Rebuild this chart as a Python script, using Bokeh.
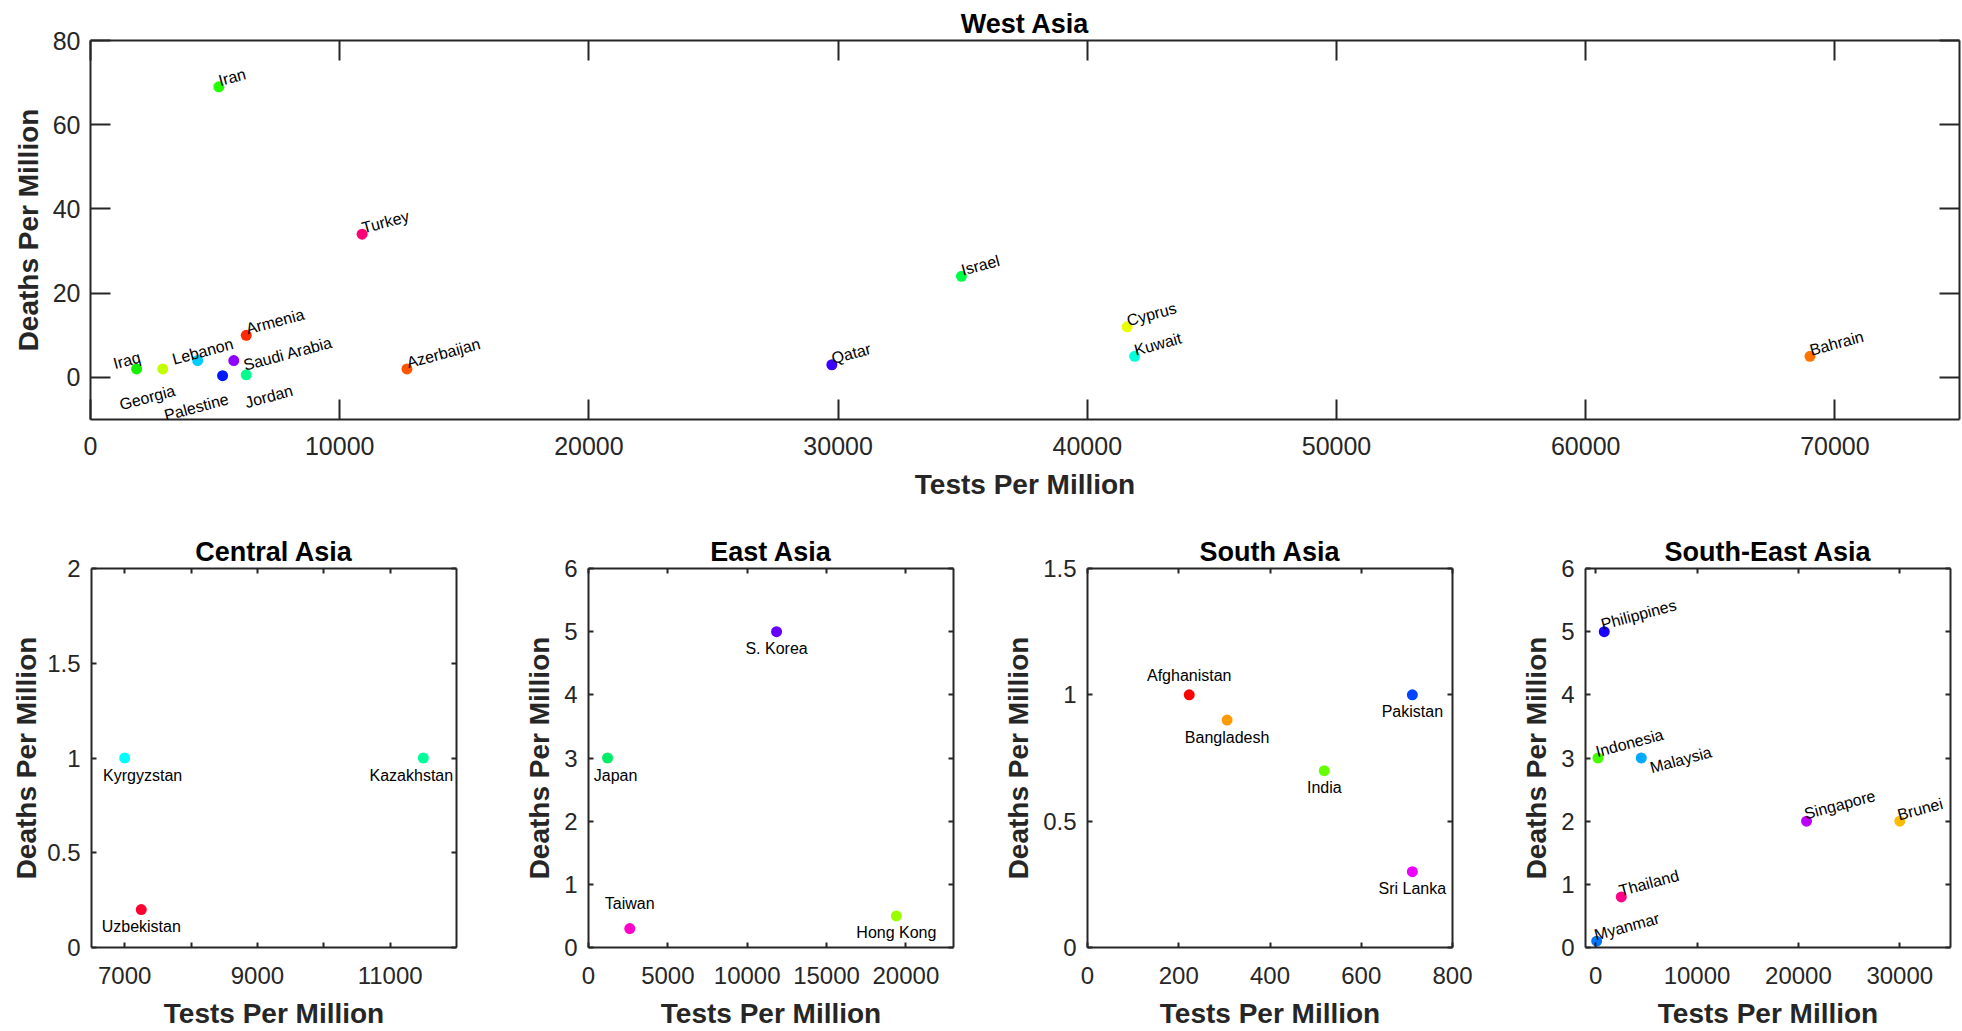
import math
from bokeh.plotting import figure
from bokeh.layouts import column, row
from bokeh.models import LinearAxis, FixedTicker, Range1d, ColumnDataSource, Label
from bokeh.embed import file_html
from bokeh.resources import INLINE

FONT = "Liberation Sans"
AXC = "#262626"

# ---------------- data ----------------
# West Asia
wa_country = ["Iran", "Turkey", "Israel", "Cyprus", "Kuwait", "Bahrain", "Qatar",
              "Azerbaijan", "Armenia", "Iraq", "Georgia", "Lebanon", "Saudi Arabia",
              "Palestine", "Jordan"]
wa_tests = [5150, 10900, 34950, 41600, 41900, 69000, 29750,
            12700, 6250, 1850, 2900, 4300, 5750, 5300, 6250]
wa_deaths = [69, 34, 24, 12, 5, 5, 3, 2, 10, 2, 2, 4, 4, 0.4, 0.6]
wa_color = ["#26ff00", "#ff0077", "#00ff44", "#e8ff00", "#00ffdd", "#ff7300", "#3c00ff",
            "#ff5500", "#ff2a00", "#14f000", "#c4ff00", "#00ccff", "#9000ff",
            "#0019ff", "#00ff8c"]
wa_xticks = [0, 10000, 20000, 30000, 40000, 50000, 60000, 70000]
wa_xtick_labels = ["0", "10000", "20000", "30000", "40000", "50000", "60000", "70000"]
wa_yticks = [0, 20, 40, 60, 80]
wa_ytick_labels = ["0", "20", "40", "60", "80"]
wa_xrange = (0, 75000)
wa_yrange = (-10, 80)

# Central Asia
ca_country = ["Kyrgyzstan", "Kazakhstan", "Uzbekistan"]
ca_tests = [7000, 11500, 7250]
ca_deaths = [1, 1, 0.2]
ca_color = ["#00ffff", "#00ff99", "#ff0033"]
ca_xticks = [7000, 8000, 9000, 10000, 11000]
ca_xtick_labels = ["7000", "", "9000", "", "11000"]
ca_yticks = [0, 0.5, 1, 1.5, 2]
ca_ytick_labels = ["0", "0.5", "1", "1.5", "2"]
ca_xrange = (6500, 12000)
ca_yrange = (0, 2)

# East Asia
ea_country = ["S. Korea", "Japan", "Taiwan", "Hong Kong"]
ea_tests = [11850, 1200, 2600, 19400]
ea_deaths = [5, 3, 0.3, 0.5]
ea_color = ["#6600ff", "#00ee66", "#ff00cc", "#99ff00"]
ea_xticks = [0, 5000, 10000, 15000, 20000]
ea_xtick_labels = ["0", "5000", "10000", "15000", "20000"]
ea_yticks = [0, 1, 2, 3, 4, 5, 6]
ea_ytick_labels = ["0", "1", "2", "3", "4", "5", "6"]
ea_xrange = (0, 23000)
ea_yrange = (0, 6)

# South Asia
sa_country = ["Afghanistan", "Bangladesh", "India", "Pakistan", "Sri Lanka"]
sa_tests = [223, 306, 519, 712, 712]
sa_deaths = [1, 0.9, 0.7, 1, 0.3]
sa_color = ["#ff0000", "#ff9900", "#66ff00", "#0044ff", "#ee00ff"]
sa_xticks = [0, 200, 400, 600, 800]
sa_xtick_labels = ["0", "200", "400", "600", "800"]
sa_yticks = [0, 0.5, 1, 1.5]
sa_ytick_labels = ["0", "0.5", "1", "1.5"]
sa_xrange = (0, 800)
sa_yrange = (0, 1.5)

# South-East Asia
se_country = ["Philippines", "Indonesia", "Malaysia", "Singapore", "Brunei",
              "Thailand", "Myanmar"]
se_tests = [850, 230, 4500, 20800, 30000, 2530, 100]
se_deaths = [5, 3, 3, 2, 2, 0.8, 0.1]
se_color = ["#1a00ff", "#44ff00", "#00aaff", "#bb00ff", "#ffbb00", "#ff0088", "#0077ff"]
se_xticks = [0, 10000, 20000, 30000]
se_xtick_labels = ["0", "10000", "20000", "30000"]
se_yticks = [0, 1, 2, 3, 4, 5, 6]
se_ytick_labels = ["0", "1", "2", "3", "4", "5", "6"]
se_xrange = (-1000, 35000)
se_yrange = (0, 6)

# ---------------- label placement (screen px; dy positive = up) ----------------
wa_dx = [0, 0, 0, 0, 0, 0, 0, 0, 0, -23, -43, -25, 10, -58, -1]
wa_dy = [6, 6, 6, 6, 6, 6, 6, 6, 6, 5, -36, 1, -5, -40, -28]
ca_dx = [18, -12, 0]
ca_dy = [-17, -17, -17]
ea_dx = [0, 8, 0, 0]
ea_dy = [-17, -17, 25, -17]
sa_dx = [0, 0, 0, 0, 0]
sa_dy = [19, -17, -17, -17, -17]
se_dx = [-3, -2, 9, -2, -2, -2, -2]
se_dy = [7, 6, -10, 7, 6, 6, 6]

ROT = math.radians(15)


def style_axis(ax, ticks, labels, tick_len, font_size, label_standoff, show_labels=True):
    ax.ticker = FixedTicker(ticks=ticks)
    ax.major_label_overrides = {t: l for t, l in zip(ticks, labels)}
    ax.major_tick_in = tick_len
    ax.major_tick_out = 0
    ax.minor_tick_line_color = None
    ax.axis_line_color = AXC
    ax.axis_line_width = 2
    ax.major_tick_line_color = AXC
    ax.major_tick_line_width = 2
    ax.major_label_text_font = FONT
    if show_labels:
        ax.major_label_text_color = AXC
        ax.major_label_text_font_size = font_size
        ax.major_label_standoff = label_standoff
    else:
        ax.major_label_text_color = None
        ax.major_label_text_font_size = "0px"
        ax.major_label_standoff = 0


def make_panel(title, names, xs, ys, cols, xt, xtl, yt, ytl, xr, yr, dx, dy,
               width, height, mb, tick_len, tick_font, rotated, align,
               xstand, ystand, xlab_stand, title_standoff, ylab_stand=6):
    p = figure(width=width, height=height, x_range=Range1d(*xr), y_range=Range1d(*yr),
               output_backend="svg", toolbar_location=None,
               min_border_left=mb[0], min_border_right=mb[1],
               min_border_top=mb[2], min_border_bottom=mb[3])
    p.xgrid.visible = False
    p.ygrid.visible = False
    p.outline_line_color = None
    p.background_fill_color = "white"
    p.border_fill_color = "white"

    p.title.text = title
    p.title.align = "center"
    p.title.text_font = FONT
    p.title.text_font_size = "27px"
    p.title.text_font_style = "bold"
    p.title.text_color = "black"
    p.title.standoff = title_standoff

    xb = p.xaxis[0]
    yl = p.yaxis[0]
    style_axis(xb, xt, xtl, tick_len, tick_font, xstand)
    style_axis(yl, yt, ytl, tick_len, tick_font, ystand)
    xb.axis_label = "Tests Per Million"
    yl.axis_label = "Deaths Per Million"
    for ax in (xb, yl):
        ax.axis_label_text_font = FONT
        ax.axis_label_text_font_size = "28px"
        ax.axis_label_text_font_style = "bold"
        ax.axis_label_text_color = AXC
    xb.axis_label_standoff = xlab_stand
    yl.axis_label_standoff = ylab_stand

    xa = LinearAxis()
    style_axis(xa, xt, xtl, tick_len, tick_font, 0, show_labels=False)
    p.add_layout(xa, "above")
    yr_ax = LinearAxis()
    style_axis(yr_ax, yt, ytl, tick_len, tick_font, 0, show_labels=False)
    p.add_layout(yr_ax, "right")

    src = ColumnDataSource(dict(x=xs, y=ys, color=cols))
    p.scatter(x="x", y="y", size=11, fill_color="color", line_color=None, source=src)
    for name, x, y, ox, oy in zip(names, xs, ys, dx, dy):
        p.add_layout(Label(x=x, y=y, text=name, x_offset=ox, y_offset=oy,
                           text_font=FONT, text_font_size="16px",
                           text_color="black", text_align=align,
                           text_baseline="alphabetic",
                           angle=ROT if rotated else 0, angle_units="rad"))
    return p


H1 = 507
top = make_panel("West Asia", wa_country, wa_tests, wa_deaths, wa_color,
                 wa_xticks, wa_xtick_labels, wa_yticks, wa_ytick_labels,
                 wa_xrange, wa_yrange, wa_dx, wa_dy,
                 1962, H1, (90, 3, 40, H1 - 40 - 379), 20, "25px", True, "left",
                 17, 10, 11, 4)

BH = 1031 - H1
BMB_T = 568 - H1
BMB_B = BH - BMB_T - 380
BK = dict(tick_len=5, tick_font="24px", xstand=19, ystand=11, xlab_stand=11,
          title_standoff=3)
p1 = make_panel("Central Asia", ca_country, ca_tests, ca_deaths, ca_color,
                ca_xticks, ca_xtick_labels, ca_yticks, ca_ytick_labels,
                ca_xrange, ca_yrange, ca_dx, ca_dy,
                498, BH, (91, 42, BMB_T, BMB_B), rotated=False, align="center",
                ylab_stand=2, **BK)
p2 = make_panel("East Asia", ea_country, ea_tests, ea_deaths, ea_color,
                ea_xticks, ea_xtick_labels, ea_yticks, ea_ytick_labels,
                ea_xrange, ea_yrange, ea_dx, ea_dy,
                498, BH, (90, 43, BMB_T, BMB_B), rotated=False, align="center", **BK)
p3 = make_panel("South Asia", sa_country, sa_tests, sa_deaths, sa_color,
                sa_xticks, sa_xtick_labels, sa_yticks, sa_ytick_labels,
                sa_xrange, sa_yrange, sa_dx, sa_dy,
                498, BH, (91, 42, BMB_T, BMB_B), rotated=False, align="center", **BK)
p4 = make_panel("South-East Asia", se_country, se_tests, se_deaths, se_color,
                se_xticks, se_xtick_labels, se_yticks, se_ytick_labels,
                se_xrange, se_yrange, se_dx, se_dy,
                468, BH, (91, 12, BMB_T, BMB_B), rotated=True, align="left", **BK)

layout = column(top, row(p1, p2, p3, p4, spacing=0), spacing=0)
open("out.html", "w").write(file_html(layout, INLINE))
